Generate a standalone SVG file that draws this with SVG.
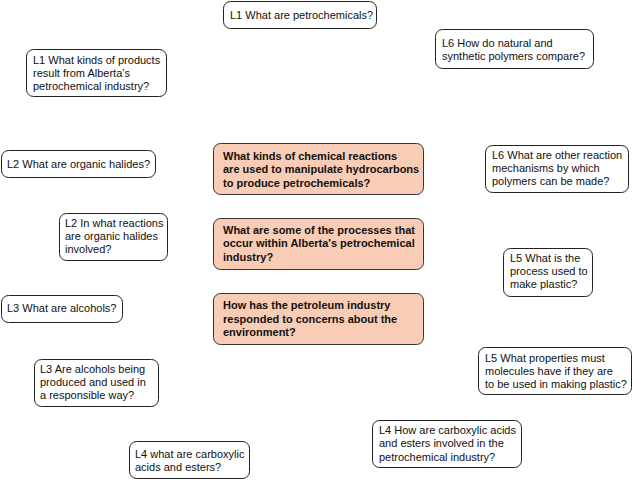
<svg xmlns="http://www.w3.org/2000/svg" width="633" height="480" viewBox="0 0 633 480">
<style>
  .q rect { fill: #ffffff; stroke: #222222; stroke-width: 1; }
  .c rect { fill: #f9ccb6; stroke: #333333; stroke-width: 1; }
  text { font-family: "Liberation Sans", Arial, Helvetica, sans-serif; font-size: 11px; fill: #111111; }
  .c text { font-weight: bold; }
</style>
<rect width="633" height="480" fill="#ffffff"/>
<g id="connectors"/>

<g id="n-l1a" class="q">
  <rect x="223.5" y="1.5" width="153" height="27" rx="7"/>
  <text x="230" y="19">L1 What are petrochemicals?</text>
</g>
<g id="n-l1b" class="q">
  <rect x="26.5" y="49.5" width="140" height="47" rx="7"/>
  <text x="33" y="64">L1 What kinds of products</text>
  <text x="33" y="77">result from Alberta’s</text>
  <text x="33" y="90">petrochemical industry?</text>
</g>
<g id="n-l6a" class="q">
  <rect x="435.5" y="29.5" width="158" height="39" rx="7"/>
  <text x="442" y="47">L6 How do natural and</text>
  <text x="442" y="60">synthetic polymers compare?</text>
</g>
<g id="n-l2a" class="q">
  <rect x="1.5" y="150.5" width="154" height="27" rx="7"/>
  <text x="7" y="168">L2 What are organic halides?</text>
</g>
<g id="n-l2b" class="q">
  <rect x="59.5" y="213.5" width="108" height="47" rx="7"/>
  <text x="65" y="227">L2 In what reactions</text>
  <text x="65" y="240">are organic halides</text>
  <text x="65" y="253">involved?</text>
</g>
<g id="n-l3a" class="q">
  <rect x="1.5" y="295.5" width="121" height="27" rx="7"/>
  <text x="7" y="312">L3 What are alcohols?</text>
</g>
<g id="n-l3b" class="q">
  <rect x="34.5" y="359.5" width="124" height="47" rx="7"/>
  <text x="40" y="373">L3 Are alcohols being</text>
  <text x="40" y="386">produced and used in</text>
  <text x="40" y="399">a responsible way?</text>
</g>
<g id="n-l4a" class="q">
  <rect x="129.5" y="441.5" width="120" height="37" rx="7"/>
  <text x="135" y="458">L4 what are carboxylic</text>
  <text x="135" y="471">acids and esters?</text>
</g>
<g id="n-l4b" class="q">
  <rect x="372.5" y="420.5" width="149" height="47" rx="7"/>
  <text x="379" y="434">L4 How are carboxylic acids</text>
  <text x="379" y="447">and esters involved in the</text>
  <text x="379" y="461">petrochemical industry?</text>
</g>
<g id="n-l5a" class="q">
  <rect x="478.5" y="347.5" width="153" height="47" rx="7"/>
  <text x="485" y="362">L5 What properties must</text>
  <text x="485" y="375">molecules have if they are</text>
  <text x="485" y="388">to be used in making plastic?</text>
</g>
<g id="n-l5b" class="q">
  <rect x="503.5" y="248.5" width="89" height="48" rx="7"/>
  <text x="510" y="262">L5 What is the</text>
  <text x="510" y="275">process used to</text>
  <text x="510" y="288">make plastic?</text>
</g>
<g id="n-l6b" class="q">
  <rect x="485.5" y="145.5" width="143" height="47" rx="7"/>
  <text x="492" y="159">L6 What are other reaction</text>
  <text x="492" y="172">mechanisms by which</text>
  <text x="492" y="185">polymers can be made?</text>
</g>

<g id="c-reactions" class="c">
  <rect x="213.5" y="143.5" width="210" height="51" rx="7"/>
  <text x="223" y="160">What kinds of chemical reactions</text>
  <text x="223" y="173">are used to manipulate hydrocarbons</text>
  <text x="223" y="187">to produce petrochemicals?</text>
</g>
<g id="c-processes" class="c">
  <rect x="213.5" y="218.5" width="210" height="51" rx="7"/>
  <text x="223" y="234">What are some of the processes that</text>
  <text x="223" y="247">occur within Alberta's petrochemical</text>
  <text x="223" y="261">industry?</text>
</g>
<g id="c-environment" class="c">
  <rect x="213.5" y="293.5" width="210" height="51" rx="7"/>
  <text x="223" y="309">How has the petroleum industry</text>
  <text x="223" y="323">responded to concerns about the</text>
  <text x="223" y="336">environment?</text>
</g>
</svg>
